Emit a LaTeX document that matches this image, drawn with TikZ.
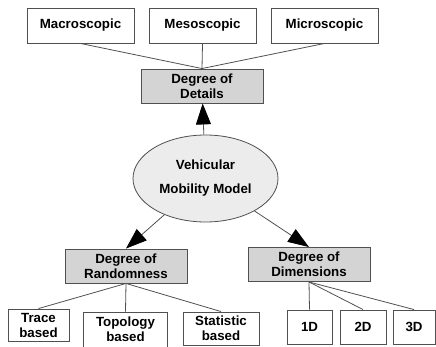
\documentclass[tikz,border=0pt]{standalone}
\usepackage{fontspec}
\setmainfont{Liberation Sans}
\usetikzlibrary{shapes.geometric,arrows.meta}
\definecolor{boxgray}{RGB}{212,212,212}
\definecolor{ovalgray}{RGB}{236,236,236}
\definecolor{edgegray}{RGB}{80,80,80}

\begin{document}
\begin{tikzpicture}[x=1pt,y=-1pt,
  leaf/.style={draw=edgegray,fill=white,line width=0.9pt,inner sep=0pt,
               minimum height=34pt,align=center,
               font=\fontsize{13.3}{15}\selectfont\bfseries},
  deg/.style={leaf,fill=boxgray,minimum width=122pt},
  oval/.style={ellipse,draw=edgegray,fill=ovalgray,line width=0.8pt,
               minimum width=145pt,minimum height=87pt,inner sep=0pt,
               align=center,font=\fontsize{13.3}{24}\selectfont\bfseries},
  ln/.style={draw=edgegray,line width=0.8pt},
  arr/.style={draw=edgegray,line width=0.8pt,
              -{Triangle[length=21pt,width=15pt,color=black]}}
]
\useasboundingbox (0,0) rectangle (436,347);

\node[leaf,minimum width=107pt,minimum height=35pt] (macro) at (80.5,25.5) {Macroscopic};
\node[leaf,minimum width=107pt,minimum height=35pt] (meso)  at (202.5,25.5) {Mesoscopic};
\node[leaf,minimum width=107pt,minimum height=35pt] (micro) at (324.5,25.5) {Microscopic};

\node[deg] (details) at (202,86) {Degree of\\Details};
\node[oval] (vmm) at (205.5,178.5) {Vehicular\\Mobility Model};
\node[deg] (random) at (126,266) {Degree of\\Randomness};
\node[deg] (dims) at (309,264.5) {Degree of\\Dimensions};

\node[leaf,minimum width=61pt,minimum height=32pt] (trace) at (38.5,325) {Trace\\based};
\node[leaf,minimum width=84pt,minimum height=35pt] (topo) at (125.5,329.5) {Topology\\based};
\node[leaf,minimum width=76pt,minimum height=33pt] (stat) at (221,328.5) {Statistic\\based};
\node[leaf,minimum width=45pt] (oned) at (309.5,327) {1D};
\node[leaf,minimum width=46pt] (twod) at (363,327) {2D};
\node[leaf,minimum width=42pt] (threed) at (414,327) {3D};

\draw[ln] (macro.south) -- (details.north);
\draw[ln] (meso.south) -- (details.north);
\draw[ln] (micro.south) -- (details.north);

\draw[arr] (vmm) -- (details);
\draw[arr] (vmm) -- (random.north);
\draw[arr] (vmm) -- (dims.north);

\draw[ln] (random.south) -- (trace.north);
\draw[ln] (random.south) -- (topo.north);
\draw[ln] (random.south) -- (stat.north);
\draw[ln] (dims.south) -- (oned.north);
\draw[ln] (dims.south) -- (twod.north);
\draw[ln] (dims.south) -- (threed.north);
\end{tikzpicture}
\end{document}
